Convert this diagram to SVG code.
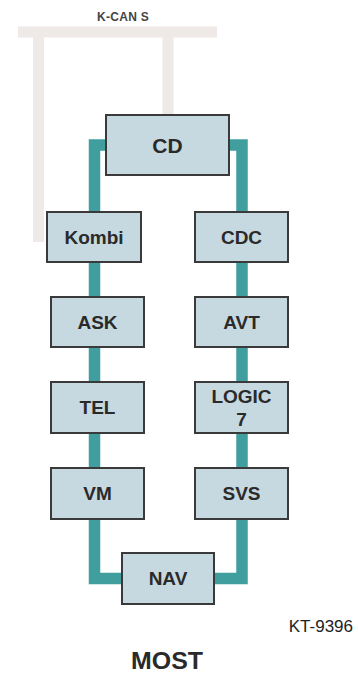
<svg xmlns="http://www.w3.org/2000/svg" width="358" height="675" viewBox="0 0 358 675">
<style>
.box{fill:#c7d9e0;stroke:#3a3a3a;stroke-width:2}
.lbl{font-family:"Liberation Sans",Arial,sans-serif;font-weight:bold;font-size:19px;fill:#2a2a2a;text-anchor:middle;dominant-baseline:central}
.most{stroke:#419e9e;stroke-width:11.5;fill:none;stroke-linejoin:miter}
.kcan{stroke:#efe9e7;stroke-width:11;fill:none}
</style>
<rect width="358" height="675" fill="#ffffff"/>
<text x="123" y="17" font-family="'Liberation Sans',Arial,sans-serif" font-weight="bold" font-size="12" fill="#444" text-anchor="middle" dominant-baseline="central" letter-spacing="0.3">K-CAN S</text>
<g id="connectors">
<path class="kcan" d="M18,32 H217"/>
<path class="kcan" d="M38.5,32 V242"/>
<path class="kcan" d="M168,32 V115"/>
<path class="most" d="M106,145 H94.5 V578.5 H122"/>
<path class="most" d="M229,145 H242 V578.5 H214"/>
</g>
<g id="CD"><rect class="box" x="106" y="115" width="123" height="60"/><text class="lbl" x="167.5" y="145" style="font-size:21px">CD</text></g>
<g id="Kombi"><rect class="box" x="47" y="212" width="94" height="50"/><text class="lbl" x="94" y="237">Kombi</text></g>
<g id="CDC"><rect class="box" x="195" y="212" width="93" height="50"/><text class="lbl" x="241.5" y="237">CDC</text></g>
<g id="ASK"><rect class="box" x="51" y="297" width="93" height="50"/><text class="lbl" x="97.5" y="322">ASK</text></g>
<g id="AVT"><rect class="box" x="195" y="297" width="93" height="50"/><text class="lbl" x="241.5" y="322">AVT</text></g>
<g id="TEL"><rect class="box" x="51" y="382" width="93" height="51"/><text class="lbl" x="97.5" y="407.5">TEL</text></g>
<g id="LOGIC7"><rect class="box" x="195" y="382" width="93" height="51"/><text class="lbl" x="241.5" y="396">LOGIC</text><text class="lbl" x="241.5" y="419">7</text></g>
<g id="VM"><rect class="box" x="51" y="468" width="93" height="51"/><text class="lbl" x="97.5" y="493.5">VM</text></g>
<g id="SVS"><rect class="box" x="195" y="468" width="93" height="51"/><text class="lbl" x="241.5" y="493.5">SVS</text></g>
<g id="NAV"><rect class="box" x="122" y="553" width="92" height="51"/><text class="lbl" x="168" y="578.5">NAV</text></g>
<text x="353" y="632" font-family="'Liberation Sans',Arial,sans-serif" font-size="17" fill="#222" text-anchor="end">KT-9396</text>
<text x="167" y="669" font-family="'Liberation Sans',Arial,sans-serif" font-weight="bold" font-size="23" fill="#2a2a2a" text-anchor="middle" textLength="72" lengthAdjust="spacingAndGlyphs">MOST</text>
</svg>
